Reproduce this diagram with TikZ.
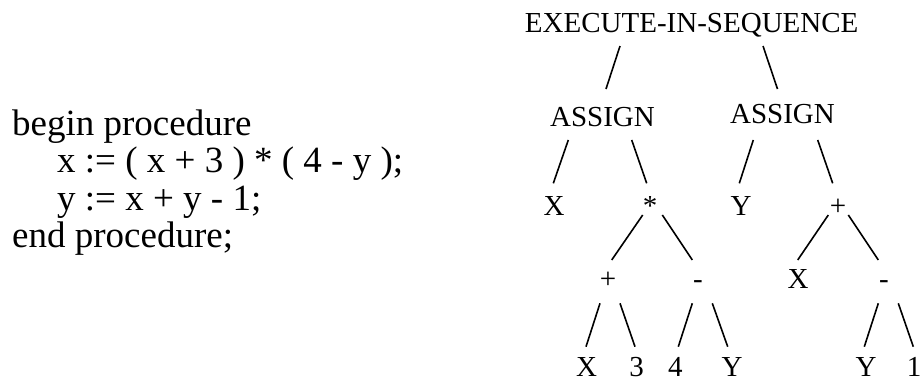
\documentclass[tikz,border=0pt]{standalone}
\usepackage{fontspec}
\setmainfont{Liberation Serif}
\begin{document}
\begin{tikzpicture}[x=1pt,y=-1pt,
  lbl/.style={inner sep=0pt, anchor=base, font=\fontsize{29}{34}\selectfont},
  code/.style={inner sep=0pt, anchor=base west, font=\fontsize{37}{40}\selectfont},
  edge/.style={line width=1.6pt}]
\useasboundingbox (0,0) rectangle (923,381);

% source listing
\node[code] (l1) at (12,135) {begin procedure};
\node[code] (l2) at (57,172.5) {x := ( x + 3 ) * ( 4 - y );};
\node[code] (l3) at (57,210) {y := x + y - 1;};
\node[code] (l4) at (12,247) {end procedure;};

% syntax tree
\node[lbl] (root)  at (691.7,32.5) {EXECUTE-IN-SEQUENCE};
\node[lbl] (asgL)  at (602.5,126.5) {ASSIGN};
\node[lbl] (asgR)  at (782.5,123.5) {ASSIGN};
\node[lbl] (xL)    at (554,215) {X};
\node[lbl] (star)  at (650,215) {*};
\node[lbl] (yR)    at (741,215) {Y};
\node[lbl] (plusR) at (838,215) {+};
\node[lbl] (plusL) at (608,288) {+};
\node[lbl] (minL)  at (698,288) {-};
\node[lbl] (xR)    at (798,288) {X};
\node[lbl] (minR)  at (884,288) {-};
\node[lbl] (lfX)   at (586.7,376.5) {X};
\node[lbl] (lf3)   at (636.7,376.5) {3};
\node[lbl] (lf4)   at (675.3,376.5) {4};
\node[lbl] (lfY)   at (732,376.5) {Y};
\node[lbl] (lfY2)  at (866,376.5) {Y};
\node[lbl] (lf1)   at (914,376.5) {1};

% short strokes: one end placed below the parent, the other above the child
\newcommand\branch[4]{%
  \draw[edge] ([shift={(#2)}]#1.base) -- ([shift={(#4)}]#3.base);}
\branch{root}{-71.7,13.5}{asgL}{3.5,-37.5}
\branch{root}{71.3,13.5}{asgR}{-5,-34.5}
\branch{asgL}{-34.2,13.5}{xL}{-0.7,-31.7}
\branch{asgL}{29.2,13.5}{star}{-3.3,-31.7}
\branch{asgR}{-29.2,16.5}{yR}{-1.7,-31.7}
\branch{asgR}{35.2,16.5}{plusR}{-5.3,-31.7}
\branch{star}{-7.3,0}{plusL}{3.7,-28}
\branch{star}{12.3,0}{minL}{-5.7,-28}
\branch{plusR}{-9.7,0}{xR}{-0.3,-28}
\branch{plusR}{10.3,0}{minR}{-5.7,-28}
\branch{plusL}{-8,15.3}{lfX}{-0.7,-29.8}
\branch{plusL}{12,15.3}{lf3}{-1.7,-29.8}
\branch{minL}{-5.7,15.3}{lf4}{3,-29.8}
\branch{minL}{14.3,15.3}{lfY}{-4.3,-29.8}
\branch{minR}{-5.7,15.3}{lfY2}{-1.7,-29.8}
\branch{minR}{14.3,15.3}{lf1}{-0.7,-29.8}
\end{tikzpicture}
\end{document}
